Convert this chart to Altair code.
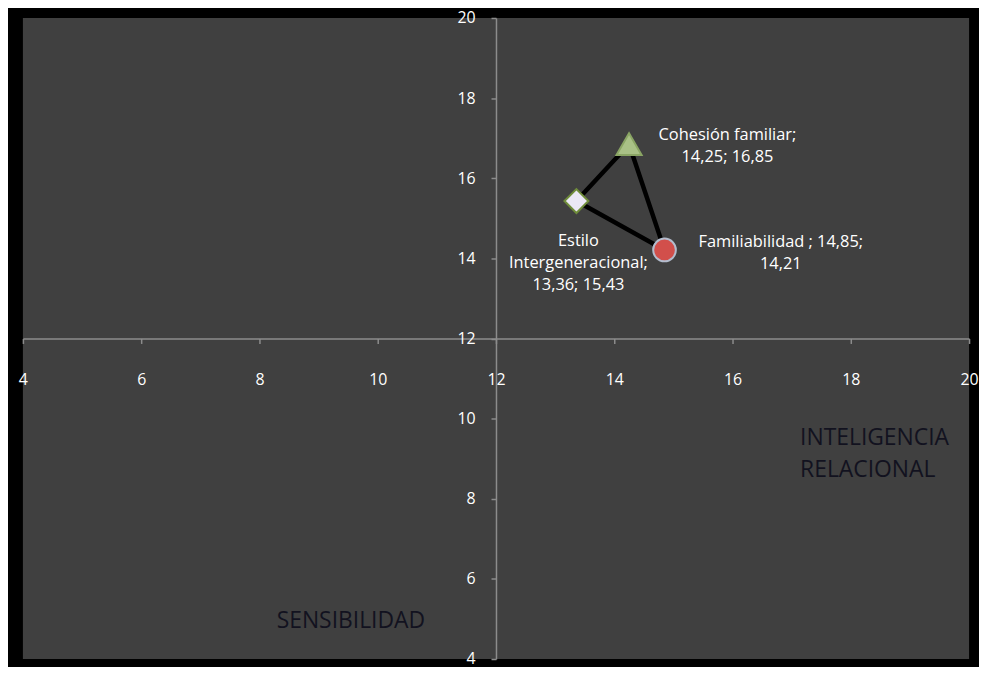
import altair as alt
import pandas as pd

# ---- data ----
names = ["Cohesión familiar", "Estilo Intergeneracional", "Familiabilidad"]
x_vals = [14.25, 13.36, 14.85]
y_vals = [16.85, 15.43, 14.21]
label_texts = [
    "Cohesión familiar;\n14,25; 16,85",
    "Estilo\nIntergeneracional;\n13,36; 15,43",
    "Familiabilidad  ; 14,85;\n14,21",
]
shapes = ["triangle-up", "diamond", "circle"]
fills = ["#a9c186", "#ebe8f6", "#d24f4b"]
strokes = ["#8aa564", "#6f8c3a", "#b3bccd"]
sizes = [640, 520, 560]
line_path = ["Estilo Intergeneracional", "Cohesión familiar", "Familiabilidad", "Estilo Intergeneracional"]
x_ticks = [4, 6, 8, 10, 12, 14, 16, 18, 20]
y_ticks = [4, 6, 8, 10, 12, 14, 16, 18, 20]
quad_texts = ["INTELIGENCIA\nRELACIONAL", "SENSIBILIDAD"]

W, H = 952, 645
FONT = "Open Sans"

pts = pd.DataFrame({"name": names, "x": x_vals, "y": y_vals, "label": label_texts})
lookup = {n: (xv, yv) for n, xv, yv in zip(names, x_vals, y_vals)}
line_df = pd.DataFrame({
    "order": list(range(len(line_path))),
    "name": line_path,
    "x": [lookup[n][0] for n in line_path],
    "y": [lookup[n][1] for n in line_path],
})

axis_col = "#8c8c8c"
xs = alt.Scale(domain=[4, 20], nice=False, zero=False)
ys = alt.Scale(domain=[4, 20], nice=False, zero=False)
xaxis = alt.Axis(values=x_ticks, offset=-H / 2, orient="bottom", domainColor=axis_col, domainWidth=1.5,
                 tickColor=axis_col, tickSize=5, tickWidth=1.5, labelColor="white", labelFont=FONT,
                 labelFontSize=16, labelPadding=28, grid=False, title=None, labelFlush=False,
                 format="d", labelOverlap=False)
yaxis = alt.Axis(values=y_ticks, offset=-W / 2, orient="left", domainColor=axis_col, domainWidth=1.5,
                 tickColor=axis_col, tickSize=5, tickWidth=1.5, labelColor="white", labelFont=FONT,
                 labelFontSize=16, labelPadding=16, grid=False, title=None, labelFlush=False,
                 format="d", labelOverlap=False)

X = alt.X("x:Q", scale=xs, axis=xaxis)
Y = alt.Y("y:Q", scale=ys, axis=yaxis)

lines = alt.Chart(line_df).mark_line(color="black", strokeWidth=4.5).encode(x=X, y=Y, order="order:Q")

points = alt.Chart(pts).mark_point(filled=True, strokeWidth=2, opacity=1).encode(
    x=X, y=Y,
    shape=alt.Shape("name:N", scale=alt.Scale(domain=names, range=shapes), legend=None),
    fill=alt.Fill("name:N", scale=alt.Scale(domain=names, range=fills), legend=None),
    stroke=alt.Stroke("name:N", scale=alt.Scale(domain=names, range=strokes), legend=None),
    size=alt.Size("name:N", scale=alt.Scale(domain=names, range=sizes), legend=None),
)

def label_layer(name, dx, dy):
    return alt.Chart(pts).transform_filter(alt.datum.name == name).mark_text(
        font=FONT, fontSize=16.5, color="white", align="center", baseline="top",
        lineBreak="\n", lineHeight=22, dx=dx, dy=dy,
    ).encode(x=X, y=Y, text="label:N")

lab1 = label_layer(names[0], 99, -17)
lab2 = label_layer(names[1], 2, 32)
lab3 = label_layer(names[2], 117, -16)

quad_df = pd.DataFrame({"t": quad_texts})
quad1 = alt.Chart(quad_df).transform_filter(alt.datum.t == quad_texts[0]).mark_text(
    font=FONT, fontSize=23, color="#12121f", align="left", baseline="middle", lineBreak="\n", lineHeight=32,
).encode(x=alt.value(782), y=alt.value(423), text="t:N")
quad2 = alt.Chart(quad_df).transform_filter(alt.datum.t == quad_texts[1]).mark_text(
    font=FONT, fontSize=23, color="#12121f", align="center", baseline="middle",
).encode(x=alt.value(330), y=alt.value(607), text="t:N")

chart = alt.layer(lines, points, lab1, lab2, lab3, quad1, quad2).properties(
    width=W, height=H,
    autosize=alt.AutoSizeParams(type="none"),
    padding={"left": 15, "top": 8, "right": 10, "bottom": 6},
    background="black",
).configure_view(fill="#404040", stroke=None)

chart.save("out.html", embed_options={"renderer": "svg", "actions": False})
